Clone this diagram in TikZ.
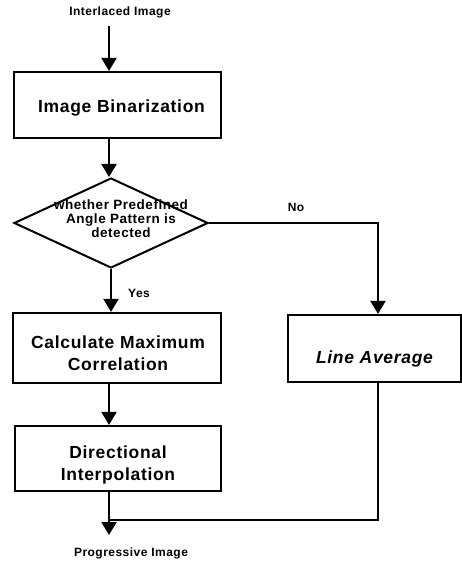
\documentclass[tikz,border=0pt]{standalone}
\usepackage{fontspec}
\setmainfont{Liberation Sans}[LetterSpace=4]
\usetikzlibrary{arrows.meta,shapes.geometric,calc}
\tikzset{
  conn/.style={line width=2.2pt},
  arr/.style={conn,-{Triangle[width=15pt,length=13pt]}},
  box/.style={draw,line width=2.2pt,inner sep=0pt},
  btext/.style={align=center,inner sep=0pt,font=\fontsize{17.5}{21.5}\selectfont\bfseries},
  small/.style={font=\fontsize{12}{14}\selectfont\bfseries,inner sep=0pt},
  dtext/.style={font=\fontsize{13.5}{14}\selectfont\bfseries,align=center,inner sep=0pt}
}
\begin{document}
\begin{tikzpicture}[x=1pt,y=-1pt]
\useasboundingbox (0,0) rectangle (462,561);
\node[small] (in) at (120,12) {Interlaced Image};
\node[box,minimum width=207pt,minimum height=66pt] (bin) at (117.5,105) {};
\node[btext] (bint) at ($(bin.center)+(4,3)$) {Image Binarization};
\node[draw,diamond,line width=2pt,minimum width=194pt,minimum height=90pt,inner sep=0pt] (dia) at (111,223) {};
\node[dtext] (dtx) at (121,219) {whether Predefined\\[0pt]Angle Pattern is\\[0pt]detected};
\node[box,minimum width=208pt,minimum height=70pt] (cmc) at (117,348) {};
\node[btext] (cmct) at ($(cmc.center)+(1,5)$) {Calculate Maximum\\Correlation};
\node[box,minimum width=173pt,minimum height=67pt] (la) at (374.5,348.5) {};
\node[btext] (lat) at ($(la.center)+(0,10)$) {\itshape Line Average};
\node[box,minimum width=206pt,minimum height=65pt] (dir) at (118,458.5) {};
\node[btext] (dirt) at ($(dir.center)+(0,6.5)$) {Directional\\Interpolation};
\node[small] (out) at (131,553) {Progressive Image};
\node[small] (yes) at (139,293) {Yes};
\node[small] (no) at (296,207) {No};
\coordinate (xl) at (109,0);
\coordinate (xr) at (378,0);
\coordinate (xo) at (0,535);
\coordinate (yj) at (0,520);
\draw[arr] (xl |- in.south) ++(0,8) -- (xl |- bin.north);
\draw[arr] (xl |- bin.south) -- (xl |- dia.north);
\draw[arr] (dia.south) -- (dia.south |- cmc.north);
\draw[arr] (dia.east) -- (xr |- dia.east) -- (xr |- la.north);
\draw[arr] (xl |- cmc.south) -- (xl |- dir.north);
\draw[arr] (xl |- dir.south) -- (xl |- xo);
\draw[conn] (xr |- la.south) -- (xr |- yj) -- (xl |- yj);
\end{tikzpicture}
\end{document}
